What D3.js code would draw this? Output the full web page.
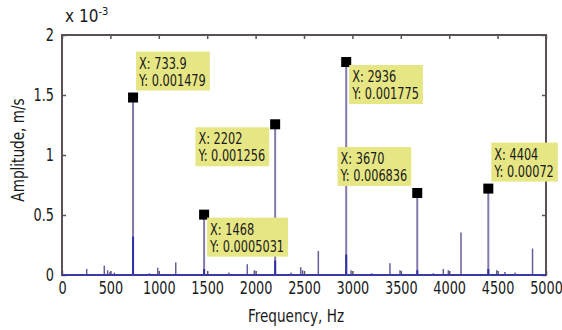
<!DOCTYPE html>
<html lang="en">
<head>
  <meta charset="UTF-8">
  <title>Spectrum</title>
  <style>
  body { margin: 0; background: #fff; }
  svg { display: block; }
  text { font-family: "DejaVu Sans Condensed", "Liberation Sans Narrow", sans-serif; font-stretch: condensed; fill: #1a1a1a; }
  </style>
</head>
<body>
  <svg></svg>
  <script src="https://d3js.org/d3.v7.min.js"></script>
  <script>
  // small side peaks (Hz, m/s)
  var peakFreq = [255, 437, 472, 496, 540, 902, 989, 1175, 1725, 1914, 1987, 2366, 2466, 2485, 2648,
                  2986, 3199, 3388, 3492, 3836, 3939, 3991, 4122, 4491, 4576, 4680, 4861];
  var peakAmp  = [0.00005, 0.000078, 0.00004, 0.000025, 0.00002, 0.000015, 0.00006, 0.000105, 0.00002,
                  0.00009, 0.00004, 0.00002, 0.000065, 0.00004, 0.0002, 0.00004, 0.000015, 0.000097,
                  0.00004, 0.000015, 0.00005, 0.00004, 0.000355, 0.00004, 0.000025, 0.00002, 0.00022];
  // harmonics marked with data tips
  var tipFreq = [733.9, 1468, 2202, 2936, 3670, 4404];
  var tipAmp  = [0.001479, 0.0005031, 0.001256, 0.001775, 0.0006836, 0.00072];
  var tipXText = ["733.9", "1468", "2202", "2936", "3670", "4404"];
  var tipYText = ["0.001479", "0.0005031", "0.001256", "0.001775", "0.006836", "0.00072"];
  // second (blue) spectrum at the harmonics
  var blueAmp = [0.00032, 0.00005, 0.00012, 0.00017, 0.00004, 0.00005];
  var xTicks = [0, 500, 1000, 1500, 2000, 2500, 3000, 3500, 4000, 4500, 5000];
  var yTicks = [0, 0.0005, 0.001, 0.0015, 0.002];
  var yTickLabels = ["0", "0.5", "1", "1.5", "2"];

  var width = 562, height = 330;
  var pL = 62, pR = 546, pT = 35, pB = 275;
  var squeeze = 0.84; // the original font is a narrow one

  function condense(sel) {
    sel.each(function() {
      var len = this.getComputedTextLength();
      d3.select(this).attr("textLength", len * squeeze).attr("lengthAdjust", "spacingAndGlyphs");
    });
  }

  var x = d3.scaleLinear().domain([0, 5000]).range([pL, pR]);
  var y = d3.scaleLinear().domain([0, 0.002]).range([pB, pT]);

  var svg = d3.select("svg").attr("width", width).attr("height", height);

  // axes (matlab style: ticks in, on all four sides)
  var fmtY = (d, i) => yTickLabels[i];
  svg.append("g").attr("transform", "translate(" + pL + ",0)")
    .call(d3.axisLeft(y).tickValues(yTicks).tickFormat(fmtY).tickSizeInner(-4).tickSizeOuter(0).tickPadding(8))
    .call(g => g.selectAll("text").style("font-size", "17px").call(condense));
  svg.append("g").attr("transform", "translate(" + pR + ",0)")
    .call(d3.axisRight(y).tickValues(yTicks).tickFormat("").tickSizeInner(-4).tickSizeOuter(0));
  svg.append("g").attr("transform", "translate(0," + pB + ")")
    .call(d3.axisBottom(x).tickValues(xTicks).tickFormat(d3.format("d")).tickSizeInner(-4).tickSizeOuter(0).tickPadding(7))
    .call(g => g.selectAll("text").style("font-size", "17px").call(condense));
  svg.append("g").attr("transform", "translate(0," + pT + ")")
    .call(d3.axisTop(x).tickValues(xTicks).tickFormat("").tickSizeInner(-4).tickSizeOuter(0));
  svg.selectAll(".domain").remove();
  svg.selectAll(".tick line").attr("stroke", "#5a5252").attr("stroke-width", 1.5);

  svg.append("rect")
    .attr("x", pL).attr("y", pT)
    .attr("width", pR - pL).attr("height", pB - pT)
    .attr("fill", "none").attr("stroke", "#5a5252").attr("stroke-width", 2);

  // stems
  var g = svg.append("g");
  g.selectAll(".small").data(peakFreq).enter().append("line")
    .attr("x1", d => x(d)).attr("x2", d => x(d))
    .attr("y1", y(0)).attr("y2", (d, i) => y(peakAmp[i]))
    .attr("stroke", "#6a5c9c").attr("stroke-width", 1.5);
  g.selectAll(".main").data(tipFreq).enter().append("line")
    .attr("x1", d => x(d)).attr("x2", d => x(d))
    .attr("y1", y(0)).attr("y2", (d, i) => y(tipAmp[i]))
    .attr("stroke", "#8478ad").attr("stroke-width", 2);
  g.selectAll(".blue").data(tipFreq).enter().append("line")
    .attr("x1", d => x(d)).attr("x2", d => x(d))
    .attr("y1", y(0)).attr("y2", (d, i) => y(blueAmp[i]))
    .attr("stroke", "#2f2fa6").attr("stroke-width", 2);
  // baseline
  svg.append("line")
    .attr("x1", x(0)).attr("x2", x(5000)).attr("y1", y(0)).attr("y2", y(0))
    .attr("stroke", "#3b3aa0").attr("stroke-width", 2);

  // markers
  svg.selectAll(".mk").data(tipFreq).enter().append("rect")
    .attr("x", d => x(d) - 5).attr("y", (d, i) => y(tipAmp[i]) - 5)
    .attr("width", 10).attr("height", 10).attr("fill", "#000");

  // data tips: where the box sits relative to its marker
  var place = ["ur", "dr", "dl", "dr", "ul", "ur"];
  tipFreq.forEach(function(f, i) {
    var mx = x(f), my = y(tipAmp[i]);
    var tg = svg.append("g");
    var box = tg.append("rect").attr("fill", "#e6e685");
    var t1 = tg.append("text").text("X: " + tipXText[i]).style("font-size", "15px").call(condense);
    var t2 = tg.append("text").text("Y: " + tipYText[i]).style("font-size", "15px").call(condense);
    var w = Math.max(+t1.attr("textLength"), +t2.attr("textLength")) + 7;
    var h = 39;
    var bx = place[i][1] == "r" ? mx + 3 : mx - 6 - w;
    var by = place[i][0] == "u" ? my - 7 - h : my + 3;
    box.attr("x", bx).attr("y", by).attr("width", w).attr("height", h);
    t1.attr("x", bx + 3).attr("y", by + 17);
    t2.attr("x", bx + 3).attr("y", by + 34);
  });

  // exponent label
  var ex = svg.append("text").attr("x", 65).attr("y", 22).style("font-size", "17px");
  ex.append("tspan").text("x 10");
  ex.append("tspan").text("-3").attr("dy", -7).style("font-size", "11px");

  svg.append("text").attr("x", 296).attr("y", 322)
    .attr("text-anchor", "middle").style("font-size", "18px").text("Frequency, Hz").call(condense);
  svg.append("text").attr("transform", "translate(24,150) rotate(-90)")
    .attr("text-anchor", "middle").style("font-size", "18px").text("Amplitude, m/s").call(condense);
  </script>
</body>
</html>
